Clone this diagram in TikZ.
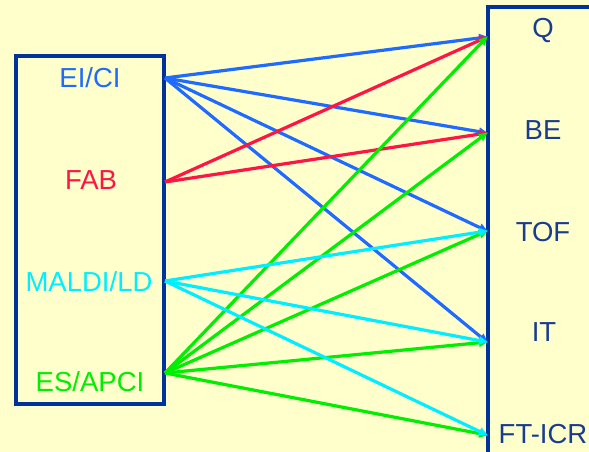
\documentclass[tikz,border=0pt]{standalone}
\usepackage{fontspec}
\setmainfont{Liberation Sans}
\usetikzlibrary{arrows.meta}
\definecolor{bgyellow}{HTML}{FFFFCC}
\definecolor{frame}{HTML}{003399}
\definecolor{cblue}{HTML}{1F6BFF}
\definecolor{cred}{HTML}{FF1444}
\definecolor{ccyan}{HTML}{00EEFF}
\definecolor{cgreen}{HTML}{00EE00}
\definecolor{navy}{HTML}{1A3C8F}
\tikzset{
  x=1pt, y=-1pt,
  box/.style={draw=frame, line width=3.5pt},
  lab/.style={inner sep=0pt, font=\fontsize{27.5}{30}\selectfont},
  link/.style={line width=3.2pt, -{Triangle[length=9pt,width=8pt]}, shorten >=-1pt},
}
\begin{document}
\begin{tikzpicture}
\fill[bgyellow] (0,0) rectangle (589,452);
\useasboundingbox (0,0) rectangle (589,452);

% ion sources
\draw[box] (16,56) rectangle (164,404);
\node[lab, text=cblue] (eicil) at (90,78) {EI/CI};
\node[lab, text=cred] (fabl) at (91,180) {FAB};
\node[lab, text=ccyan] (maldil) at (89,282) {MALDI/LD};
\node[lab, text=cgreen] (esl) at (90,382) {ES/APCI};

% analysers
\begin{scope}
\clip (0,0) rectangle (589,452);
\draw[box] (600,7) -- (488,7) -- (488,460);
\end{scope}
\node[lab, text=navy] (ql) at (543,30) {Q};
\node[lab, text=navy] (bel) at (543,130) {BE};
\node[lab, text=navy] (tofl) at (543,232) {TOF};
\node[lab, text=navy] (itl) at (544,332) {IT};
\node[lab, text=navy] (ftl) at (543,434) {FT-ICR};

% connector ends on the frames
\coordinate (eici) at (165,78);
\coordinate (fab) at (165,182);
\coordinate (maldi) at (165,281);
\coordinate (es) at (165,373);
\coordinate (q) at (487,37);
\coordinate (be) at (487,133);
\coordinate (tof) at (487,231);
\coordinate (it) at (487,342);
\coordinate (ft) at (487,435);

% EI/CI
\foreach \t in {q,be,tof,it} \draw[link, cblue] (eici) -- (\t);
% FAB
\foreach \t in {q,be} \draw[link, cred] (fab) -- (\t);
% ES/APCI
\foreach \t in {q,be,tof,it,ft} \draw[link, cgreen] (es) -- (\t);
% MALDI/LD
\foreach \t in {tof,it,ft} \draw[link, ccyan] (maldi) -- (\t);
\end{tikzpicture}
\end{document}
